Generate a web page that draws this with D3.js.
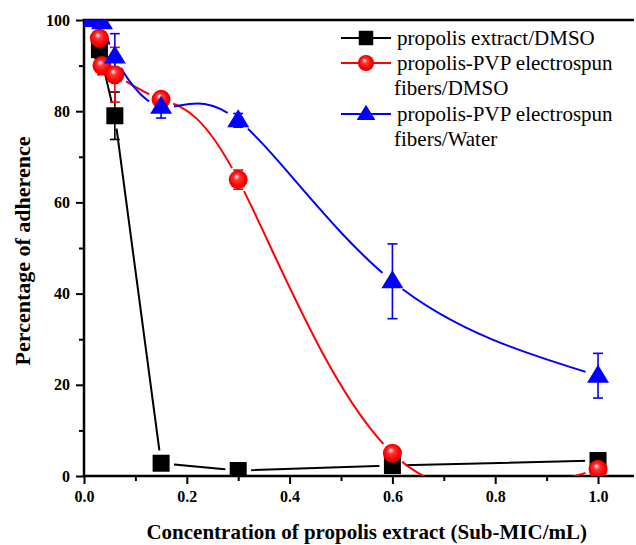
<!DOCTYPE html>
<html>
<head>
<meta charset="utf-8">
<script src="https://cdn.jsdelivr.net/npm/d3@7"></script>
<style>
  body { margin: 0; background: #fff; }
  svg { display: block; font-family: "Liberation Serif", "Times New Roman", serif; }
</style>
</head>
<body>
<div id="chart"></div>
<script>
// Adherence vs concentration, three series with error bars

const extractX   = [0.03, 0.06, 0.15, 0.3, 0.6, 1.0];
const extractY   = [93.5, 79, 2.8, 1.2, 2.3, 3.4];
const extractErr = [2, 5.2, 0.3, 0.3, 0.3, 0.3];

const fibDmsoX   = [0.03, 0.035, 0.06, 0.15, 0.3, 0.6, 1.0];
const fibDmsoY   = [96, 90, 88, 82.6, 65, 5, 1.5];
const fibDmsoErr = [1.5, 2, 6, 0.8, 2.1, 0.5, 0.5];

const fibWaterX   = [0.015, 0.035, 0.06, 0.15, 0.3, 0.6, 1.0];
const fibWaterY   = [100, 99.5, 92, 81, 78, 42.7, 22];
const fibWaterErr = [0.5, 0.5, 5, 2.5, 1.5, 8.2, 4.9];

const xTicks = [0, 0.2, 0.4, 0.6, 0.8, 1.0];
const yTicks = [0, 20, 40, 60, 80, 100];

const legendLabels = [
  ['propolis extract/DMSO'],
  ['propolis-PVP electrospun', 'fibers/DMSO'],
  ['propolis-PVP electrospun', 'fibers/Water']
];

const width = 636, height = 545;
const margin = { top: 20, right: 2, bottom: 69, left: 84 };
const innerW = width - margin.left - margin.right;
const innerH = height - margin.top - margin.bottom;

const x = d3.scaleLinear().domain([0, 1.07]).range([0, innerW]);
const y = d3.scaleLinear().domain([0, 100]).range([innerH, 0]);

const svg = d3.select('#chart').append('svg')
  .attr('width', width)
  .attr('height', height);

const defs = svg.append('defs');
defs.append('clipPath').attr('id', 'plot-clip')
  .append('rect').attr('x', 0).attr('y', 0).attr('width', innerW).attr('height', innerH);

// shiny ball for the red markers
const rg = defs.append('radialGradient')
  .attr('id', 'ball')
  .attr('cx', '50%').attr('cy', '50%').attr('r', '55%')
  .attr('fx', '40%').attr('fy', '32%');
rg.append('stop').attr('offset', '0%').attr('stop-color', '#ffffff');
rg.append('stop').attr('offset', '28%').attr('stop-color', '#ff3a3a');
rg.append('stop').attr('offset', '70%').attr('stop-color', '#ff0000');
rg.append('stop').attr('offset', '100%').attr('stop-color', '#d40000');

const g = svg.append('g').attr('transform', `translate(${margin.left},${margin.top})`);

// axes
const yAxis = d3.axisLeft(y).tickValues(yTicks).tickSize(8).tickPadding(6).tickFormat(d3.format('d'));
const yMinor = d3.axisLeft(y).tickValues(d3.range(10, 100, 20)).tickSize(5).tickFormat('');
const xAxis = d3.axisBottom(x).tickValues(xTicks).tickSize(8).tickPadding(7).tickFormat(d3.format('.1f'));
const xMinor = d3.axisBottom(x).tickValues(d3.range(0.1, 1.0, 0.2)).tickSize(5).tickFormat('');

function styleAxis(sel) {
  sel.select('.domain').remove();
  sel.selectAll('line').attr('stroke', '#000').attr('stroke-width', 2);
  sel.selectAll('text')
    .attr('fill', '#000')
    .style('font-family', '"Liberation Serif", serif')
    .style('font-weight', 'bold')
    .style('font-size', '16px');
}

g.append('g').call(yAxis).call(styleAxis);
g.append('g').call(yMinor).call(styleAxis);
g.append('g').attr('transform', `translate(0,${innerH})`).call(xAxis).call(styleAxis);
g.append('g').attr('transform', `translate(0,${innerH})`).call(xMinor).call(styleAxis);

// frame lines: top, left, bottom
g.append('path')
  .attr('d', `M${innerW},0H0V${innerH}H${innerW}`)
  .attr('fill', 'none')
  .attr('stroke', '#000')
  .attr('stroke-width', 2.5);

const plot = g.append('g').attr('clip-path', 'url(#plot-clip)');

const series = [
  { xs: extractX, ys: extractY, err: extractErr, color: '#000000', curve: d3.curveLinear, marker: 'square' },
  { xs: fibDmsoX, ys: fibDmsoY, err: fibDmsoErr, color: '#ff0000', curve: d3.curveNatural, marker: 'ball' },
  { xs: fibWaterX, ys: fibWaterY, err: fibWaterErr, color: '#0000ff', curve: d3.curveNatural, marker: 'triangle' }
];

const line = d3.line().x(d => x(d[0])).y(d => y(d[1]));

function drawMarker(sel, kind, color, k = 1) {
  if (kind === 'square') {
    sel.append('rect').attr('x', -8.5 * k).attr('y', -8.5 * k)
      .attr('width', 17 * k).attr('height', 17 * k).attr('fill', color);
  } else if (kind === 'ball') {
    sel.append('circle').attr('r', 9.5 * k).attr('fill', 'url(#ball)');
  } else {
    sel.append('path').attr('d', `M0,${-11 * k}L${11 * k},${7 * k}L${-11 * k},${7 * k}Z`).attr('fill', color);
  }
}

series.forEach((s, si) => {
  const pts = s.xs.map((v, i) => [v, s.ys[i]]);

  // Origin-style gap in the line around each marker
  const mask = defs.append('mask').attr('id', 'gap-' + si)
    .attr('maskUnits', 'userSpaceOnUse')
    .attr('x', 0).attr('y', 0).attr('width', innerW).attr('height', innerH);
  mask.append('rect').attr('width', innerW).attr('height', innerH).attr('fill', '#fff');
  pts.forEach(p => {
    mask.append('circle').attr('cx', x(p[0])).attr('cy', y(p[1])).attr('r', 13).attr('fill', '#000');
  });

  plot.append('path')
    .datum(pts)
    .attr('d', line.curve(s.curve))
    .attr('mask', `url(#gap-${si})`)
    .attr('fill', 'none')
    .attr('stroke', s.color)
    .attr('stroke-width', 2);

  // error bars
  const eb = plot.append('g').attr('stroke', s.color).attr('stroke-width', 1.6);
  pts.forEach((p, i) => {
    const cx = x(p[0]);
    const y1 = y(p[1] + s.err[i]), y2 = y(p[1] - s.err[i]);
    eb.append('line').attr('x1', cx).attr('x2', cx).attr('y1', y1).attr('y2', y2);
    eb.append('line').attr('x1', cx - 5).attr('x2', cx + 5).attr('y1', y1).attr('y2', y1);
    eb.append('line').attr('x1', cx - 5).attr('x2', cx + 5).attr('y1', y2).attr('y2', y2);
  });
});

series.forEach(s => {
  s.xs.forEach((v, i) => {
    const m = plot.append('g').attr('transform', `translate(${x(v)},${y(s.ys[i])})`);
    drawMarker(m, s.marker, s.color);
  });
});

// legend
const legend = svg.append('g').attr('transform', 'translate(341,0)');
const rowY = [38, 63, 88, 114, 139];
let row = 0;
legendLabels.forEach((lbl, k) => {
  const s = series[k];
  const ly = rowY[row];
  legend.append('line')
    .attr('x1', 0).attr('x2', 50).attr('y1', ly).attr('y2', ly)
    .attr('stroke', s.color).attr('stroke-width', 2);
  const m = legend.append('g').attr('transform', `translate(25,${ly})`);
  drawMarker(m, s.marker, s.color, 0.85);
  lbl.forEach((t, j) => {
    legend.append('text')
      .attr('x', j === 0 ? 56 : 53)
      .attr('y', rowY[row] + 7)
      .style('font-size', '21px')
      .text(t);
    row++;
  });
});

// axis titles
svg.append('text')
  .attr('x', margin.left + x(0.55))
  .attr('y', 539)
  .attr('text-anchor', 'middle')
  .style('font-weight', 'bold')
  .style('font-size', '21px')
  .text('Concentration of propolis extract (Sub-MIC/mL)');

svg.append('text')
  .attr('transform', `translate(30,${margin.top + innerH / 2 + 3}) rotate(-90)`)
  .attr('text-anchor', 'middle')
  .style('font-weight', 'bold')
  .style('font-size', '22px')
  .text('Percentage of adherence');
</script>
</body>
</html>
